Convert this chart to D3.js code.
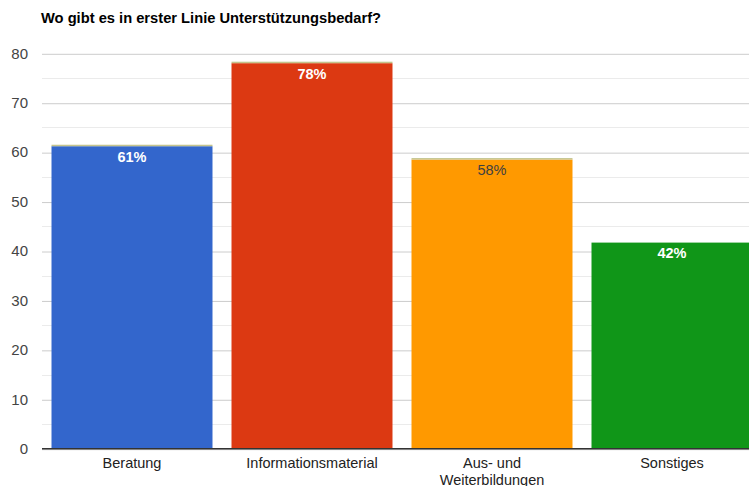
<!DOCTYPE html>
<html>
<head>
<meta charset="utf-8">
<script src="https://cdn.jsdelivr.net/npm/d3@7"></script>
<style>
  html, body { margin: 0; padding: 0; background: #fff; overflow: hidden; }
  svg { display: block; font-family: "Liberation Sans", Arial, sans-serif; }
</style>
</head>
<body>
<svg id="chart" width="749" height="486"></svg>
<script>
const title = "Wo gibt es in erster Linie Unterstützungsbedarf?";
const categories = ["Beratung", "Informationsmaterial", "Aus- und\nWeiterbildungen", "Sonstiges"];
const values = [61.2, 78.0, 58.5, 41.7];
const capValues = [0.3, 0.3, 0.3, 0];
const labels = ["61%", "78%", "58%", "42%"];
const colors = ["#3366cc", "#dc3912", "#ff9900", "#109618"];
const labelColors = ["#ffffff", "#ffffff", "#404040", "#ffffff"];
const labelWeights = ["bold", "bold", "normal", "bold"];
const yTicks = [0, 10, 20, 30, 40, 50, 60, 70, 80];
const yMinorTicks = [5, 15, 25, 35, 45, 55, 65, 75];
const capColor = "#c4c48c";

const svg = d3.select("#chart");
const W = 749;
const x = d3.scaleBand().domain(categories).range([42, 762]).paddingInner(0.1056).paddingOuter(0.0528);
const y = d3.scaleLinear().domain([0, 80]).range([448.7, 53.3]);

// title
svg.append("text").attr("x", 41).attr("y", 23).attr("font-size", 14.7).attr("font-weight", "bold")
  .attr("fill", "#000").text(title);

// minor gridlines
svg.append("g").selectAll("line").data(yMinorTicks).join("line")
  .attr("x1", 42).attr("x2", W).attr("y1", d => Math.round(y(d)) + 0.5).attr("y2", d => Math.round(y(d)) + 0.5)
  .attr("stroke", "#ebebeb").attr("stroke-width", 1);

// y axis with major gridlines
const yAxis = d3.axisLeft(y).tickValues(yTicks).tickSize(-(W - 42)).tickPadding(14);
const gy = svg.append("g").attr("transform", "translate(42,0)").call(yAxis);
gy.select(".domain").remove();
gy.selectAll(".tick line").attr("stroke", "#cccccc").attr("stroke-width", 1)
  .attr("transform", "translate(0,0.5)");
gy.selectAll(".tick text").attr("font-size", 15).attr("fill", "#444").attr("font-family", "Liberation Sans, Arial, sans-serif");

// bars
const bars = svg.append("g");
bars.selectAll("rect.bar").data(categories).join("rect").attr("class", "bar")
  .attr("x", d => x(d)).attr("width", x.bandwidth())
  .attr("y", (d, i) => y(values[i])).attr("height", (d, i) => y(0) - y(values[i]))
  .attr("fill", (d, i) => colors[i]);

// caps (thin second series)
bars.selectAll("rect.cap").data(categories).join("rect").attr("class", "cap")
  .attr("x", d => x(d)).attr("width", x.bandwidth())
  .attr("y", (d, i) => y(values[i] + capValues[i])).attr("height", (d, i) => y(values[i]) - y(values[i] + capValues[i]))
  .attr("fill", capColor);

// value labels
svg.append("g").selectAll("text").data(categories).join("text")
  .attr("x", d => x(d) + x.bandwidth() / 2).attr("y", (d, i) => y(values[i]) + 15.5)
  .attr("text-anchor", "middle").attr("font-size", 14.5)
  .attr("font-weight", (d, i) => labelWeights[i]).attr("fill", (d, i) => labelColors[i])
  .text((d, i) => labels[i]);

// baseline
svg.append("line").attr("x1", 42).attr("x2", W).attr("y1", y(0)).attr("y2", y(0))
  .attr("stroke", "#333").attr("stroke-width", 1.5);

// x axis labels
const xl = svg.append("g").selectAll("text").data(categories).join("text")
  .attr("x", d => x(d) + x.bandwidth() / 2).attr("y", 468)
  .attr("text-anchor", "middle").attr("font-size", 14.5).attr("fill", "#222");
xl.each(function(d) {
  const lines = d.split("\n");
  const t = d3.select(this);
  lines.forEach((ln, k) => {
    t.append("tspan").attr("x", x(d) + x.bandwidth() / 2).attr("dy", k === 0 ? 0 : 17).text(ln);
  });
});
</script>
</body>
</html>
